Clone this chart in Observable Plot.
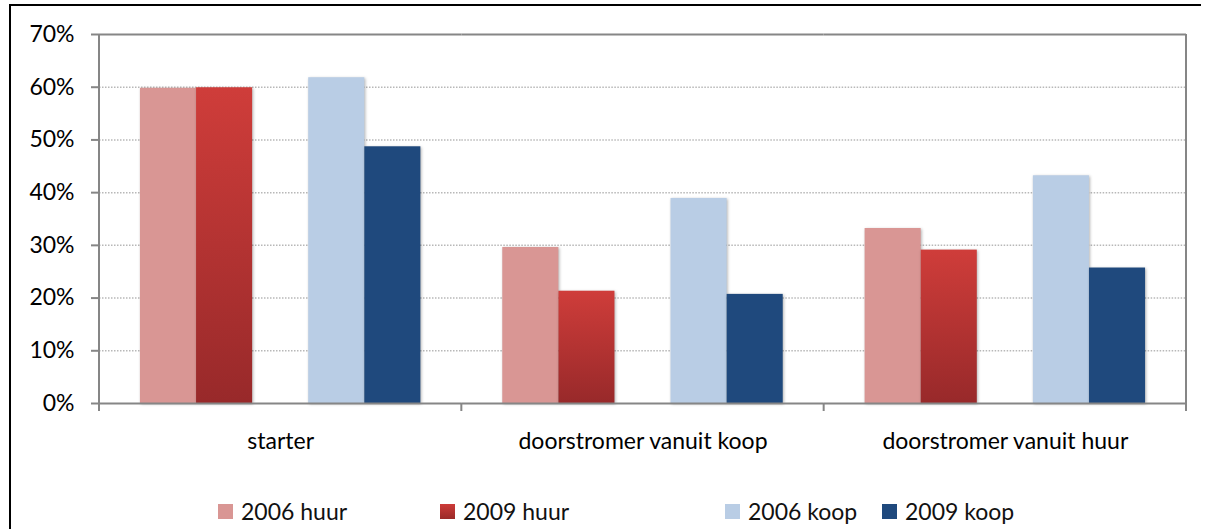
<!DOCTYPE html>
<html>
<head>
<meta charset="utf-8">
<script src="https://cdn.jsdelivr.net/npm/d3@7"></script>
<script src="https://cdn.jsdelivr.net/npm/@observablehq/plot@0.6"></script>
<style>
  html, body { margin: 0; padding: 0; background: #fff; }
  #wrap { position: relative; width: 1210px; height: 529px; overflow: hidden; font-family: Lato, sans-serif; }
  #frame { position: absolute; left: 9px; top: 4px; width: 1192px; height: 540px; border-top: 2px solid #000; border-left: 2px solid #000; box-sizing: border-box; pointer-events: none; }
  #chart { position: absolute; left: 0; top: 0; }
  #chart svg g[aria-label="bar"] rect { filter: drop-shadow(1.5px 1px 1.5px rgba(0,0,0,0.3)); }
  .leg { position: absolute; top: 497px; display: flex; align-items: center; font-size: 23px; color: #111; white-space: nowrap; }
  .sw { width: 15px; height: 15px; margin-right: 8px; }
</style>
</head>
<body>
<div id="wrap">
  <div id="chart"></div>
  <div id="frame"></div>
</div>
<script>
// ---- data ----
const categories = ["starter", "doorstromer vanuit koop", "doorstromer vanuit huur"];
const series = ["2006 huur", "2009 huur", "2006 koop", "2009 koop"];
const huur2006 = [59.8, 29.6, 33.2];
const huur2009 = [59.9, 21.3, 29.1];
const koop2006 = [61.8, 38.9, 43.2];
const koop2009 = [48.7, 20.7, 25.7];
const yTicks = [0, 10, 20, 30, 40, 50, 60, 70];
const slots = ["2006 huur", "2009 huur", "", "2006 koop", "2009 koop"];

// ---- styling ----
const colors = ["#D99694", "url(#redgrad)", "#B9CDE5", "#1F497D"];
const axisGray = "#868686";

const valuesBySeries = [huur2006, huur2009, koop2006, koop2009];
const data = [];
categories.forEach((c, i) => {
  series.forEach((s, j) => data.push({cat: c, series: s, value: valuesBySeries[j][i]}));
});

const plot = Plot.plot({
  width: 1210,
  height: 470,
  marginLeft: 99,
  marginRight: 24,
  marginTop: 34,
  marginBottom: 67,
  style: {fontFamily: "Lato, sans-serif", fontSize: "23px", color: "#000", background: "transparent"},
  fx: {domain: categories, padding: 0, label: null, round: false},
  x: {domain: slots, paddingInner: 0, paddingOuter: 0.73, axis: null, round: false},
  y: {domain: [0, 70], label: null},
  color: {type: "ordinal", domain: series, range: colors},
  marks: [
    Plot.ruleY(yTicks.filter(t => t > 0 && t < 70), {stroke: "#b8b8b8", strokeWidth: 1.5, strokeDasharray: "1.5,1.5"}),
    Plot.barY(data, {fx: "cat", x: "series", y: "value", fill: "series", inset: 0}),
    Plot.ruleY([70], {stroke: axisGray, strokeWidth: 2}),
    Plot.ruleY([0], {stroke: axisGray, strokeWidth: 2}),
    Plot.axisY({ticks: yTicks, tickFormat: d => d + "%", tickSize: 8, tickPadding: 17, stroke: axisGray, strokeWidth: 2, fill: "#000", label: null}),
    Plot.axisFx({anchor: "bottom", tickSize: 0, tickPadding: 29, fill: "#000", label: null})
  ]
});

const svg = d3.select(plot);
const defs = svg.insert("defs", ":first-child");
const g = defs.append("linearGradient").attr("id", "redgrad").attr("x1", 0).attr("y1", 0).attr("x2", 0).attr("y2", 1);
g.append("stop").attr("offset", "0%").attr("stop-color", "#CF3D3A");
g.append("stop").attr("offset", "100%").attr("stop-color", "#98292A");

// axis lines and category boundary ticks, from the plot's own scales
const fx = plot.scale("fx");
const y = plot.scale("y");
const y0 = y.apply(0), yTop = y.apply(70);
const bounds = categories.map(c => fx.apply(c));
bounds.push(fx.apply(categories[categories.length - 1]) + fx.bandwidth);
const lines = svg.append("g").attr("stroke", axisGray).attr("stroke-width", 2);
lines.append("line").attr("x1", bounds[0]).attr("x2", bounds[0]).attr("y1", yTop).attr("y2", y0 + 8);
lines.append("line").attr("x1", bounds[bounds.length - 1]).attr("x2", bounds[bounds.length - 1]).attr("y1", yTop).attr("y2", y0 + 8);
bounds.slice(1, -1).forEach(b => {
  lines.append("line").attr("x1", b).attr("x2", b).attr("y1", y0).attr("y2", y0 + 8);
});

document.getElementById("chart").appendChild(plot);

// legend
const legendLeft = [218, 440, 725, 882];
const wrap = document.getElementById("wrap");
series.forEach((s, i) => {
  const item = document.createElement("div");
  item.className = "leg";
  item.style.left = legendLeft[i] + "px";
  const sw = document.createElement("div");
  sw.className = "sw";
  sw.style.background = i === 1 ? "linear-gradient(#CD3B38, #9A2A28)" : colors[i];
  const t = document.createElement("span");
  t.textContent = s;
  item.appendChild(sw);
  item.appendChild(t);
  wrap.appendChild(item);
});
</script>
</body>
</html>
